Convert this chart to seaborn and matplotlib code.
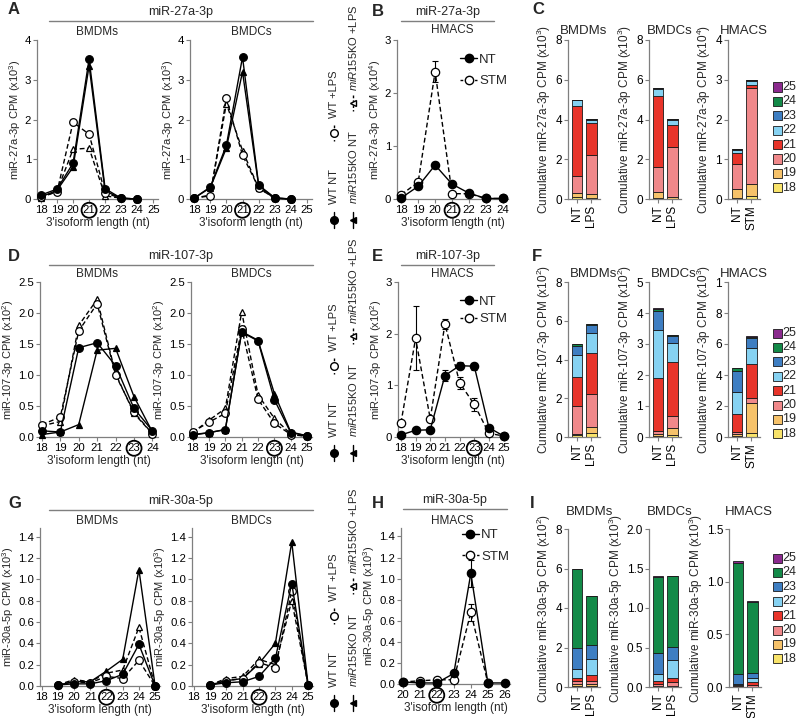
import numpy as np
import matplotlib
matplotlib.use('Agg')
import matplotlib.pyplot as plt
import seaborn as sns
from matplotlib.lines import Line2D
from matplotlib.patches import Rectangle

sns.set_theme(style='ticks')
plt.rcParams.update({
    'font.family': ['Liberation Sans', 'DejaVu Sans'],
    'mathtext.fontset': 'custom',
    'mathtext.rm': 'Liberation Sans',
    'mathtext.it': 'Liberation Sans:italic',
    'mathtext.bf': 'Liberation Sans:bold',
    'axes.edgecolor': '#7f7f7f',
    'axes.linewidth': 0.9,
    'xtick.color': '#7f7f7f',
    'ytick.color': '#7f7f7f',
    'xtick.labelcolor': 'black',
    'ytick.labelcolor': 'black',
    'xtick.major.size': 3,
    'ytick.major.size': 3,
    'xtick.major.pad': 1.5,
    'ytick.major.pad': 1.2,
    'xtick.labelsize': 8.2,
    'ytick.labelsize': 8.2,
    'axes.labelsize': 8,
    'axes.labelpad': 1.5,
})

# ---------------- data ----------------
# A: miR-27a-3p (x10^3)
len_a = [18, 19, 20, 21, 22, 23, 24]
a_bmdm_wt_nt = [0.10, 0.25, 0.90, 3.52, 0.26, 0.02, 0.00]
a_bmdm_wt_lps = [0.05, 0.18, 1.93, 1.63, 0.15, 0.02, 0.00]
a_bmdm_ko_nt = [0.05, 0.22, 0.80, 3.35, 0.20, 0.02, 0.00]
a_bmdm_ko_lps = [0.03, 0.20, 1.25, 1.28, 0.08, 0.02, 0.00]
a_bmdc_wt_nt = [0.02, 0.30, 1.35, 3.57, 0.35, 0.03, 0.00]
a_bmdc_wt_lps = [0.02, 0.08, 2.53, 1.10, 0.28, 0.02, 0.00]
a_bmdc_ko_nt = [0.02, 0.28, 1.28, 3.20, 0.33, 0.02, 0.00]
a_bmdc_ko_lps = [0.02, 0.10, 2.40, 1.22, 0.27, 0.02, 0.00]

# B: miR-27a-3p HMACS (x10^4)
len_b = [18, 19, 20, 21, 22, 23, 24]
b_nt = [0.02, 0.24, 0.64, 0.28, 0.11, 0.01, 0.01]
b_nt_err = [0.01, 0.02, 0.05, 0.02, 0.01, 0.00, 0.00]
b_stm = [0.08, 0.32, 2.40, 0.10, 0.10, 0.01, 0.01]
b_stm_err = [0.01, 0.02, 0.20, 0.02, 0.01, 0.00, 0.00]

# D: miR-107-3p (x10^2)
len_d1 = [18, 19, 20, 21, 22, 23, 24]
d_bmdm_wt_nt = [0.10, 0.08, 1.44, 1.52, 1.15, 0.46, 0.10]
d_bmdm_wt_lps = [0.20, 0.32, 1.71, 2.15, 1.00, 0.40, 0.05]
d_bmdm_ko_nt = [0.04, 0.08, 0.20, 1.40, 1.43, 0.65, 0.08]
d_bmdm_ko_lps = [0.18, 0.25, 1.80, 2.22, 1.02, 0.38, 0.05]
len_d2 = [18, 19, 20, 21, 22, 23, 24, 25]
d_bmdc_wt_nt = [0.04, 0.07, 0.12, 1.69, 1.55, 0.60, 0.07, 0.02]
d_bmdc_wt_lps = [0.08, 0.24, 0.38, 1.75, 0.61, 0.22, 0.04, 0.01]
d_bmdc_ko_nt = [0.03, 0.07, 0.12, 1.70, 1.56, 0.70, 0.08, 0.02]
d_bmdc_ko_lps = [0.07, 0.27, 0.46, 2.02, 0.68, 0.30, 0.05, 0.01]

# E: miR-107-3p HMACS (x10^2)
len_e = [18, 19, 20, 21, 22, 23, 24, 25]
e_nt = [0.04, 0.13, 0.14, 1.19, 1.38, 1.37, 0.18, 0.02]
e_nt_err = [0.01, 0.01, 0.01, 0.10, 0.07, 0.07, 0.02, 0.00]
e_stm = [0.27, 1.91, 0.35, 2.19, 1.05, 0.63, 0.07, 0.02]
e_stm_err = [0.03, 0.62, 0.03, 0.10, 0.12, 0.12, 0.02, 0.00]

# G: miR-30a-5p (x10^3)
len_g = [19, 20, 21, 22, 23, 24, 25]
g_bmdm_wt_nt = [0.01, 0.02, 0.02, 0.05, 0.11, 0.39, 0.00]
g_bmdm_wt_lps = [0.01, 0.04, 0.03, 0.09, 0.07, 0.24, 0.00]
g_bmdm_ko_nt = [0.01, 0.04, 0.04, 0.14, 0.25, 1.09, 0.00]
g_bmdm_ko_lps = [0.01, 0.06, 0.04, 0.12, 0.15, 0.55, 0.00]
g_bmdc_wt_nt = [0.01, 0.03, 0.04, 0.09, 0.26, 0.96, 0.01]
g_bmdc_wt_lps = [0.01, 0.05, 0.07, 0.22, 0.17, 0.89, 0.01]
g_bmdc_ko_nt = [0.01, 0.05, 0.07, 0.21, 0.40, 1.35, 0.01]
g_bmdc_ko_lps = [0.01, 0.07, 0.09, 0.25, 0.20, 0.80, 0.01]

# H: miR-30a-5p HMACS (x10^3)
len_h_nt = [20, 21, 22, 23, 24, 25, 26]
h_nt = [0.02, 0.01, 0.01, 0.10, 1.05, 0.01, 0.01]
h_nt_err = [0.00, 0.00, 0.00, 0.01, 0.13, 0.00, 0.00]
len_h_stm = [20, 21, 22, 23, 24, 25]
h_stm = [0.02, 0.03, 0.04, 0.04, 0.68, 0.01]
h_stm_err = [0.00, 0.00, 0.00, 0.01, 0.08, 0.00]

# stacked bars: isoform lengths 18..25
iso_lengths = ['18', '19', '20', '21', '22', '23', '24', '25']
iso_colors = ['#f8e36a', '#f6c26a', '#f0888a', '#e8342a', '#86d2f2', '#3e7ec2', '#138a48', '#8b2a8e']
c_bmdm_nt = [0.10, 0.20, 0.85, 3.55, 0.27, 0.03, 0.00, 0.00]
c_bmdm_lps = [0.05, 0.20, 1.95, 1.60, 0.20, 0.05, 0.00, 0.00]
c_bmdc_nt = [0.05, 0.28, 1.30, 3.57, 0.35, 0.05, 0.00, 0.00]
c_bmdc_lps = [0.02, 0.10, 2.51, 1.09, 0.28, 0.05, 0.00, 0.00]
c_hmacs_nt = [0.02, 0.23, 0.62, 0.28, 0.08, 0.03, 0.01, 0.00]
c_hmacs_stm = [0.08, 0.30, 2.40, 0.09, 0.10, 0.03, 0.00, 0.00]
f_bmdm_nt = [0.10, 0.08, 1.42, 1.50, 1.15, 0.45, 0.10, 0.02]
f_bmdm_lps = [0.20, 0.32, 1.68, 2.15, 1.00, 0.42, 0.06, 0.02]
f_bmdc_nt = [0.04, 0.07, 0.09, 1.70, 1.55, 0.60, 0.08, 0.02]
f_bmdc_lps = [0.07, 0.23, 0.37, 1.75, 0.60, 0.23, 0.04, 0.01]
f_hmacs_nt = [0.04, 0.13, 0.14, 1.19, 1.38, 1.37, 0.18, 0.02]
f_hmacs_stm = [0.27, 1.91, 0.35, 2.19, 1.05, 0.63, 0.07, 0.02]
i_bmdm_nt = [0.05, 0.10, 0.15, 0.15, 0.45, 1.10, 3.95, 0.03]
i_bmdm_lps = [0.05, 0.10, 0.15, 0.30, 0.80, 0.75, 2.45, 0.02]
i_bmdc_nt = [0.00, 0.01, 0.03, 0.04, 0.09, 0.26, 0.96, 0.01]
i_bmdc_lps = [0.00, 0.01, 0.05, 0.06, 0.22, 0.17, 0.89, 0.01]
i_hmacs_nt = [0.00, 0.00, 0.005, 0.01, 0.01, 0.10, 1.05, 0.02]
i_hmacs_stm = [0.00, 0.00, 0.02, 0.03, 0.04, 0.04, 0.68, 0.01]

# ---------------- figure ----------------
W, H = 798, 718
fig = plt.figure(figsize=(W / 100, H / 100), dpi=100)


def fx(x):
    return x / W


def fy(y):
    return 1 - y / H


def add_ax(l, t, r, b):
    return fig.add_axes([fx(l), fy(b), (r - l) / W, (b - t) / H])


def style_ax(ax):
    sns.despine(ax=ax)
    ax.tick_params(width=0.8)


def circle_tick(ax, txt):
    for lbl in ax.get_xticklabels():
        if lbl.get_text() == txt:
            lbl.set_bbox(dict(boxstyle='circle,pad=0.1', fc='none', ec='black', lw=1.3))


def series_line(ax, x, y, marker, filled, dashed, ms=5.5):
    sns.lineplot(x=x, y=y, ax=ax, color='black', lw=1.0, marker=marker,
                 markersize=ms, markerfacecolor='black' if filled else 'white',
                 markeredgecolor='black', markeredgewidth=0.9,
                 linestyle=(0, (3.5, 2)) if dashed else '-', clip_on=False, zorder=3)


def four_lines(ax, x, wt_nt, wt_lps, ko_nt, ko_lps, xticks, xlim, ylim, yticks, ytl, ylabel, circ):
    series_line(ax, x, ko_lps, '^', False, True, 5)
    series_line(ax, x, ko_nt, '^', True, False, 5)
    series_line(ax, x, wt_lps, 'o', False, True)
    series_line(ax, x, wt_nt, 'o', True, False)
    finish_line_ax(ax, xticks, xlim, ylim, yticks, ytl, ylabel, circ)


def finish_line_ax(ax, xticks, xlim, ylim, yticks, ytl, ylabel, circ):
    ax.set_xlim(*xlim)
    ax.set_ylim(*ylim)
    ax.set_xticks(xticks)
    ax.set_xticklabels([str(t) for t in xticks])
    ax.set_yticks(yticks)
    ax.set_yticklabels(ytl)
    ax.set_ylabel(ylabel)
    ax.set_xlabel("3'isoform length (nt)", labelpad=1, fontsize=8.5)
    style_ax(ax)
    circle_tick(ax, circ)


def two_lines(ax, x_nt, nt, nt_err, x_stm, stm, stm_err):
    ax.errorbar(x_stm, stm, yerr=stm_err, fmt='none', ecolor='black', elinewidth=0.8,
                capsize=2.5, capthick=0.8, zorder=2)
    ax.errorbar(x_nt, nt, yerr=nt_err, fmt='none', ecolor='black', elinewidth=0.8,
                capsize=2.5, capthick=0.8, zorder=2)
    series_line(ax, x_stm, stm, 'o', False, True, 6)
    series_line(ax, x_nt, nt, 'o', True, False, 6)
    handles = [Line2D([], [], color='black', lw=1, marker='o', ms=6, mfc='black', mec='black'),
               Line2D([], [], color='black', lw=1, marker='o', ms=6, mfc='white', mec='black',
                      linestyle=(0, (2, 1.5)))]
    return handles


def stacked(ax, bars, names, ylim, yticks, ytl, ylabel):
    pos = np.arange(len(bars))
    bottoms = np.zeros(len(bars))
    for k in range(len(iso_lengths)):
        seg = np.array([b[k] for b in bars])
        ax.bar(pos, seg, bottom=bottoms, width=0.72, color=iso_colors[k],
               edgecolor='#1a1a1a', linewidth=0.6)
        bottoms = bottoms + seg
    ax.set_xlim(-0.62, 1.6)
    ax.set_ylim(*ylim)
    ax.set_xticks(pos)
    ax.set_xticklabels(names, rotation=90, fontsize=8.5)
    ax.set_yticks(yticks)
    ax.set_yticklabels(ytl, fontsize=8.5)
    ax.set_ylabel(ylabel, fontsize=8.5)
    style_ax(ax)


def header(x1, x2, y, text):
    fig.add_artist(Line2D([fx(x1), fx(x2)], [fy(y), fy(y)], transform=fig.transFigure,
                          color='#7f7f7f', lw=1.0))
    fig.text(fx((x1 + x2) / 2), fy(y - 3), text, ha='center', va='bottom', fontsize=9)


def ftext(x, y, s, **kw):
    fig.text(fx(x), fy(y), s, **kw)


def vlegend(dy):
    # column 1 : WT
    x = 334
    fig.add_artist(Line2D([fx(x), fx(x)], [fy(212 + dy), fy(228 + dy)], transform=fig.transFigure,
                          color='black', lw=1))
    fig.add_artist(Line2D([fx(x)], [fy(220 + dy)], transform=fig.transFigure, marker='o',
                          ms=5.5, mfc='black', mec='black', lw=0))
    ftext(x, 204 + dy, 'WT NT', rotation=90, ha='center', va='bottom', fontsize=8)
    fig.add_artist(Line2D([fx(x), fx(x)], [fy(125 + dy), fy(141 + dy)], transform=fig.transFigure,
                          color='black', lw=1, linestyle=(0, (2, 1.5))))
    fig.add_artist(Line2D([fx(x)], [fy(133 + dy)], transform=fig.transFigure, marker='o',
                          ms=5.5, mfc='white', mec='black', lw=0))
    ftext(x, 118 + dy, 'WT +LPS', rotation=90, ha='center', va='bottom', fontsize=8)
    # column 2 : miR155KO
    x = 353
    fig.add_artist(Line2D([fx(x), fx(x)], [fy(212 + dy), fy(228 + dy)], transform=fig.transFigure,
                          color='black', lw=1))
    fig.add_artist(Line2D([fx(x)], [fy(220 + dy)], transform=fig.transFigure, marker='<',
                          ms=5, mfc='black', mec='black', lw=0))
    ftext(x, 204 + dy, r'$\mathit{miR155}$KO NT', rotation=90, ha='center', va='bottom', fontsize=8)
    fig.add_artist(Line2D([fx(x), fx(x)], [fy(95 + dy), fy(111 + dy)], transform=fig.transFigure,
                          color='black', lw=1, linestyle=(0, (2, 1.5))))
    fig.add_artist(Line2D([fx(x)], [fy(103 + dy)], transform=fig.transFigure, marker='<',
                          ms=5, mfc='white', mec='black', lw=0))
    ftext(x, 91 + dy, r'$\mathit{miR155}$KO +LPS', rotation=90, ha='center', va='bottom', fontsize=8)


def bar_legend(y0):
    for k in range(len(iso_lengths)):
        lab = iso_lengths[::-1][k]
        col = iso_colors[::-1][k]
        y = y0 + k * 14.4
        fig.add_artist(Rectangle((fx(773), fy(y + 4.5)), 9 / W, 9 / H, transform=fig.transFigure,
                                 fc=col, ec='#1a1a1a', lw=0.6))
        ftext(782, y, lab, ha='left', va='center', fontsize=9)


lbl_kw = dict(fontsize=12, fontweight='bold', ha='left', va='center')

# ======== Row 1 : miR-27a-3p ========
ftext(8, 10, 'A', **lbl_kw)
header(49, 313, 21, 'miR-27a-3p')
ax = add_ax(37, 40, 158, 199)
four_lines(ax, len_a, a_bmdm_wt_nt, a_bmdm_wt_lps, a_bmdm_ko_nt, a_bmdm_ko_lps,
           range(18, 26), (17.75, 25.3), (0, 4), [0, 1, 2, 3, 4], ['0', '1', '2', '3', '4'],
           r'miR-27a-3p CPM (x10$^3$)', '21')
ftext(97, 32, 'BMDMs', ha='center', va='center', fontsize=8.5)
ax = add_ax(190, 40, 312, 199)
four_lines(ax, len_a, a_bmdc_wt_nt, a_bmdc_wt_lps, a_bmdc_ko_nt, a_bmdc_ko_lps,
           range(18, 26), (17.75, 25.3), (0, 4), [0, 1, 2, 3, 4], ['0', '1', '2', '3', '4'],
           r'miR-27a-3p CPM (x10$^3$)', '21')
ftext(251, 32, 'BMDCs', ha='center', va='center', fontsize=8.5)
vlegend(0)

ftext(372, 12, 'B', **lbl_kw)
header(401, 494, 21, 'miR-27a-3p')
ftext(452, 30, 'HMACS', ha='center', va='center', fontsize=8.5)
ax = add_ax(397, 40, 508, 199)
hd = two_lines(ax, len_b, b_nt, b_nt_err, len_b, b_stm, b_stm_err)
finish_line_ax(ax, range(18, 25), (17.75, 24.3), (0, 3), [0, 1, 2, 3], ['0', '1', '2', '3'],
               r'miR-27a-3p CPM (x10$^4$)', '21')
ax.legend(hd, ['NT', 'STM'], loc='upper right', bbox_to_anchor=(1.1, 0.99), frameon=False,
          fontsize=9.5, handlelength=1.3, handletextpad=0.15, labelspacing=0.7)

ftext(532, 10, 'C', **lbl_kw)
ax = add_ax(568, 40, 600, 199)
stacked(ax, [c_bmdm_nt, c_bmdm_lps], ['NT', 'LPS'], (0, 8), [0, 2, 4, 6, 8],
        ['0', '2', '4', '6', '8'], r'Cumulative miR-27a-3p CPM (x10$^3$)')
ax = add_ax(649, 40, 681, 199)
stacked(ax, [c_bmdc_nt, c_bmdc_lps], ['NT', 'LPS'], (0, 8), [0, 2, 4, 6, 8],
        ['0', '2', '4', '6', '8'], r'Cumulative miR-27a-3p CPM (x10$^3$)')
ax = add_ax(728, 40, 760, 199)
stacked(ax, [c_hmacs_nt, c_hmacs_stm], ['NT', 'STM'], (0, 4), [0, 1, 2, 3, 4],
        ['0', '1', '2', '3', '4'], r'Cumulative miR-27a-3p CPM (x10$^4$)')
ftext(584, 31, 'BMDMs', ha='center', va='center', fontsize=9.5)
ftext(670, 31, 'BMDCs', ha='center', va='center', fontsize=9.5)
ftext(744, 31, 'HMACS', ha='center', va='center', fontsize=9.5)
bar_legend(87)

# ======== Row 2 : miR-107-3p ========
ftext(8, 257, 'D', **lbl_kw)
header(49, 313, 265, 'miR-107-3p')
yt = [0, 0.5, 1.0, 1.5, 2.0, 2.5]
ytl = ['0.0', '0.5', '1.0', '1.5', '2.0', '2.5']
ax = add_ax(40, 282, 158, 437)
four_lines(ax, len_d1, d_bmdm_wt_nt, d_bmdm_wt_lps, d_bmdm_ko_nt, d_bmdm_ko_lps,
           range(18, 25), (17.9, 24.3), (0, 2.5), yt, ytl, r'miR-107-3p CPM (x10$^2$)', '23')
ftext(97, 274, 'BMDMs', ha='center', va='center', fontsize=8.5)
ax = add_ax(191, 282, 312, 437)
four_lines(ax, len_d2, d_bmdc_wt_nt, d_bmdc_wt_lps, d_bmdc_ko_nt, d_bmdc_ko_lps,
           range(18, 26), (17.9, 25.3), (0, 2.5), yt, ytl, r'miR-107-3p CPM (x10$^2$)', '23')
ftext(251, 274, 'BMDCs', ha='center', va='center', fontsize=8.5)
vlegend(233)

ftext(372, 257, 'E', **lbl_kw)
header(401, 494, 265, 'miR-107-3p')
ftext(452, 274, 'HMACS', ha='center', va='center', fontsize=8.5)
ax = add_ax(398, 282, 508, 437)
hd = two_lines(ax, len_e, e_nt, e_nt_err, len_e, e_stm, e_stm_err)
finish_line_ax(ax, range(18, 26), (17.8, 25.3), (0, 3), [0, 1, 2, 3], ['0', '1', '2', '3'],
               r'miR-107-3p CPM (x10$^2$)', '23')
ax.legend(hd, ['NT', 'STM'], loc='upper right', bbox_to_anchor=(1.1, 0.99), frameon=False,
          fontsize=9.5, handlelength=1.3, handletextpad=0.15, labelspacing=0.4)

ftext(532, 257, 'F', **lbl_kw)
ax = add_ax(568, 282, 600, 437)
stacked(ax, [f_bmdm_nt, f_bmdm_lps], ['NT', 'LPS'], (0, 8), [0, 2, 4, 6, 8],
        ['0', '2', '4', '6', '8'], r'Cumulative miR-107-3p CPM (x10$^2$)')
ax = add_ax(649, 282, 681, 437)
stacked(ax, [f_bmdc_nt, f_bmdc_lps], ['NT', 'LPS'], (0, 5), [0, 1, 2, 3, 4, 5],
        ['0', '1', '2', '3', '4', '5'], r'Cumulative miR-107-3p CPM (x10$^2$)')
ax = add_ax(728, 282, 760, 437)
stacked(ax, [f_hmacs_nt, f_hmacs_stm], ['NT', 'STM'], (0, 10), [0, 2, 4, 6, 8, 10],
        ['0', '2', '4', '6', '8', '1'], r'Cumulative miR-107-3p CPM (x10$^3$)')
ftext(594, 274, 'BMDMs', ha='center', va='center', fontsize=9.5)
ftext(674, 274, 'BMDCs', ha='center', va='center', fontsize=9.5)
ftext(744, 274, 'HMACS', ha='center', va='center', fontsize=9.5)
bar_legend(333)

# ======== Row 3 : miR-30a-5p ========
ftext(8, 503, 'G', **lbl_kw)
header(49, 313, 510, 'miR-30a-5p')
yt = [0, 0.2, 0.4, 0.6, 0.8, 1.0, 1.2, 1.4]
ytl = ['0.0', '0.2', '0.4', '0.6', '0.8', '1.0', '1.2', '1.4']
ax = add_ax(40, 528, 160, 686)
four_lines(ax, len_g, g_bmdm_wt_nt, g_bmdm_wt_lps, g_bmdm_ko_nt, g_bmdm_ko_lps,
           range(18, 26), (17.9, 25.3), (0, 1.48), yt, ytl, r'miR-30a-5p CPM (x10$^3$)', '22')
ftext(97, 521, 'BMDMs', ha='center', va='center', fontsize=8.5)
ax = add_ax(192, 528, 313, 686)
four_lines(ax, len_g, g_bmdc_wt_nt, g_bmdc_wt_lps, g_bmdc_ko_nt, g_bmdc_ko_lps,
           range(18, 26), (17.9, 25.3), (0, 1.48), yt, ytl, r'miR-30a-5p CPM (x10$^3$)', '22')
ftext(251, 521, 'BMDCs', ha='center', va='center', fontsize=8.5)
vlegend(483)

ftext(372, 503, 'H', **lbl_kw)
header(403, 507, 509, 'miR-30a-5p')
ftext(452, 521, 'HMACS', ha='center', va='center', fontsize=8.5)
ax = add_ax(401, 528, 510, 684)
hd = two_lines(ax, len_h_nt, h_nt, h_nt_err, len_h_stm, h_stm, h_stm_err)
finish_line_ax(ax, range(20, 27), (19.9, 26.3), (0, 1.48), yt, ytl,
               r'miR-30a-5p CPM (x10$^3$)', '22')
ax.legend(hd, ['NT', 'STM'], loc='upper right', bbox_to_anchor=(1.1, 1.07), frameon=False,
          fontsize=9.5, handlelength=1.3, handletextpad=0.15, labelspacing=0.7)

ftext(530, 503, 'I', **lbl_kw)
ax = add_ax(568, 529, 600, 687)
stacked(ax, [i_bmdm_nt, i_bmdm_lps], ['NT', 'LPS'], (0, 8), [0, 2, 4, 6, 8],
        ['0', '2', '4', '6', '8'], r'Cumulative miR-30a-5p CPM (x10$^2$)')
ax = add_ax(649, 529, 681, 687)
stacked(ax, [i_bmdc_nt, i_bmdc_lps], ['NT', 'LPS'], (0, 2), [0, 0.5, 1.0, 1.5, 2.0],
        ['0.0', '0.5', '1.0', '1.5', '2.0'], r'Cumulative miR-30a-5p CPM (x10$^3$)')
ax = add_ax(729, 529, 761, 687)
stacked(ax, [i_hmacs_nt, i_hmacs_stm], ['NT', 'STM'], (0, 1.5), [0, 0.5, 1.0, 1.5],
        ['0.0', '0.5', '1.0', '1.5'], r'Cumulative miR-30a-5p CPM (x10$^3$)')
ftext(590, 512, 'BMDMs', ha='center', va='center', fontsize=9.5)
ftext(670, 512, 'BMDCs', ha='center', va='center', fontsize=9.5)
ftext(749, 512, 'HMACS', ha='center', va='center', fontsize=9.5)
bar_legend(558)

fig.savefig('out.png', dpi=100)
